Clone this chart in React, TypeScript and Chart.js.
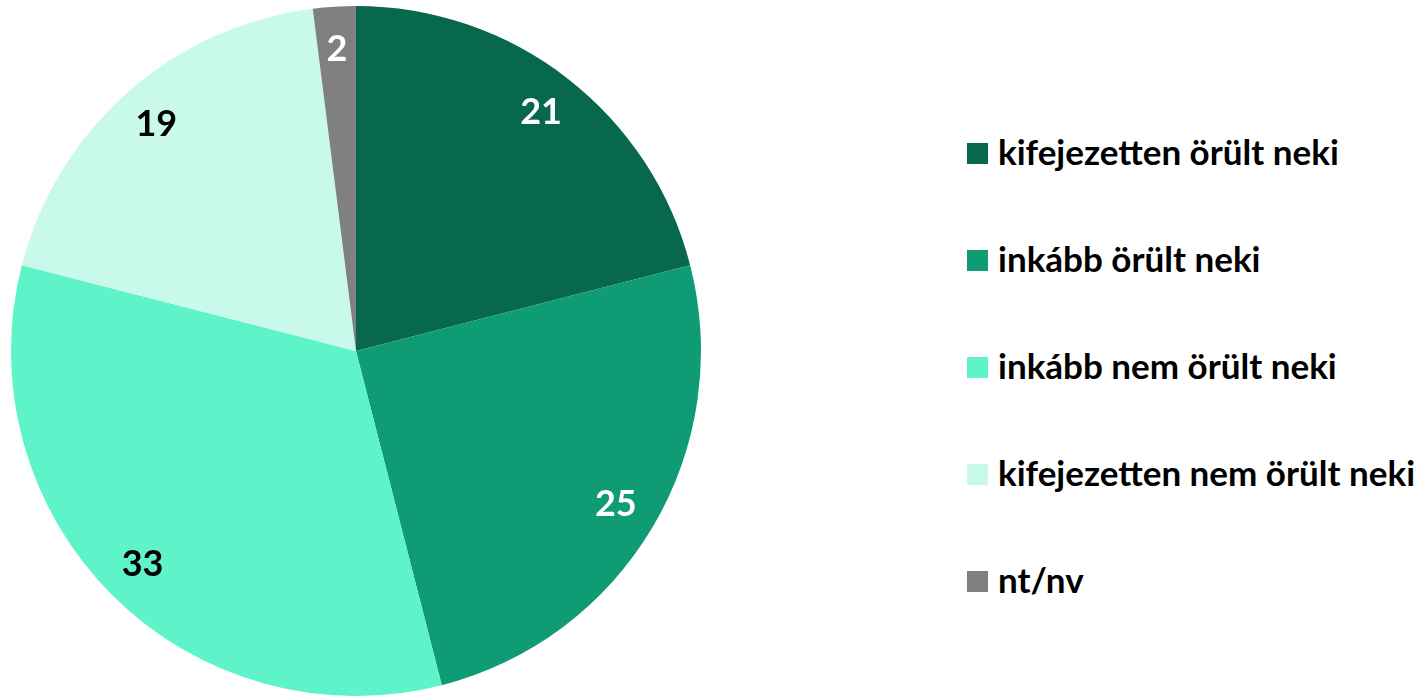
import React, { useEffect, useRef } from "react";
import { Chart, registerables } from "chart.js";

Chart.register(...registerables);

const categories = [
  "kifejezetten örült neki",
  "inkább örült neki",
  "inkább nem örült neki",
  "kifejezetten nem örült neki",
  "nt/nv",
];
const values = [21, 25, 33, 19, 2];
const sliceColors = ["#08684E", "#0F9B74", "#5EF3C9", "#C9F9EA", "#808080"];
const labelColors = ["#FFFFFF", "#FFFFFF", "#000000", "#000000", "#FFFFFF"];

const FONT = "Lato, 'Open Sans', sans-serif";

const valueLabels = {
  id: "valueLabels",
  afterDatasetsDraw(chart: any) {
    const ctx = chart.ctx;
    const meta = chart.getDatasetMeta(0);
    ctx.save();
    ctx.font = `bold 36px ${FONT}`;
    ctx.textAlign = "center";
    ctx.textBaseline = "middle";
    meta.data.forEach((arc: any, i: number) => {
      const p = arc.getProps(["x", "y", "startAngle", "endAngle", "outerRadius"], true);
      const mid = (p.startAngle + p.endAngle) / 2;
      const r = p.outerRadius * 0.875;
      ctx.fillStyle = labelColors[i];
      ctx.fillText(String(values[i]), p.x + Math.cos(mid) * r, p.y + Math.sin(mid) * r);
    });
    ctx.restore();
  },
};

export default function App() {
  const ref = useRef<HTMLCanvasElement | null>(null);
  useEffect(() => {
    document.body.style.margin = "0";
    const chart = new Chart(ref.current as HTMLCanvasElement, {
      type: "pie",
      data: {
        labels: categories,
        datasets: [
          {
            data: values,
            backgroundColor: sliceColors,
            borderWidth: 0,
          },
        ],
      },
      options: {
        responsive: false,
        animation: false,
        layout: { padding: { left: 11, right: 11, top: 6, bottom: 0 } },
        plugins: {
          legend: { display: false },
          tooltip: { enabled: false },
        },
      },
      plugins: [valueLabels],
    });
    return () => chart.destroy();
  }, []);

  return (
    <div style={{ position: "fixed", left: 0, top: 0, width: 1421, height: 696, background: "#fff" }}>
      <canvas ref={ref} width={712} height={696} style={{ position: "absolute", left: 0, top: 0 }} />
      {categories.map((c, i) => (
        <div
          key={c}
          style={{
            position: "absolute",
            left: 967,
            top: 153 + i * 107 - 30,
            height: 60,
            display: "flex",
            alignItems: "center",
            whiteSpace: "nowrap",
            font: `bold 35px ${FONT}`,
            color: "#000",
          }}
        >
          <span style={{ display: "inline-block", width: 21, height: 21, background: sliceColors[i], marginRight: 10 }} />
          <span style={{ position: "relative", top: -2 }}>{c}</span>
        </div>
      ))}
    </div>
  );
}
